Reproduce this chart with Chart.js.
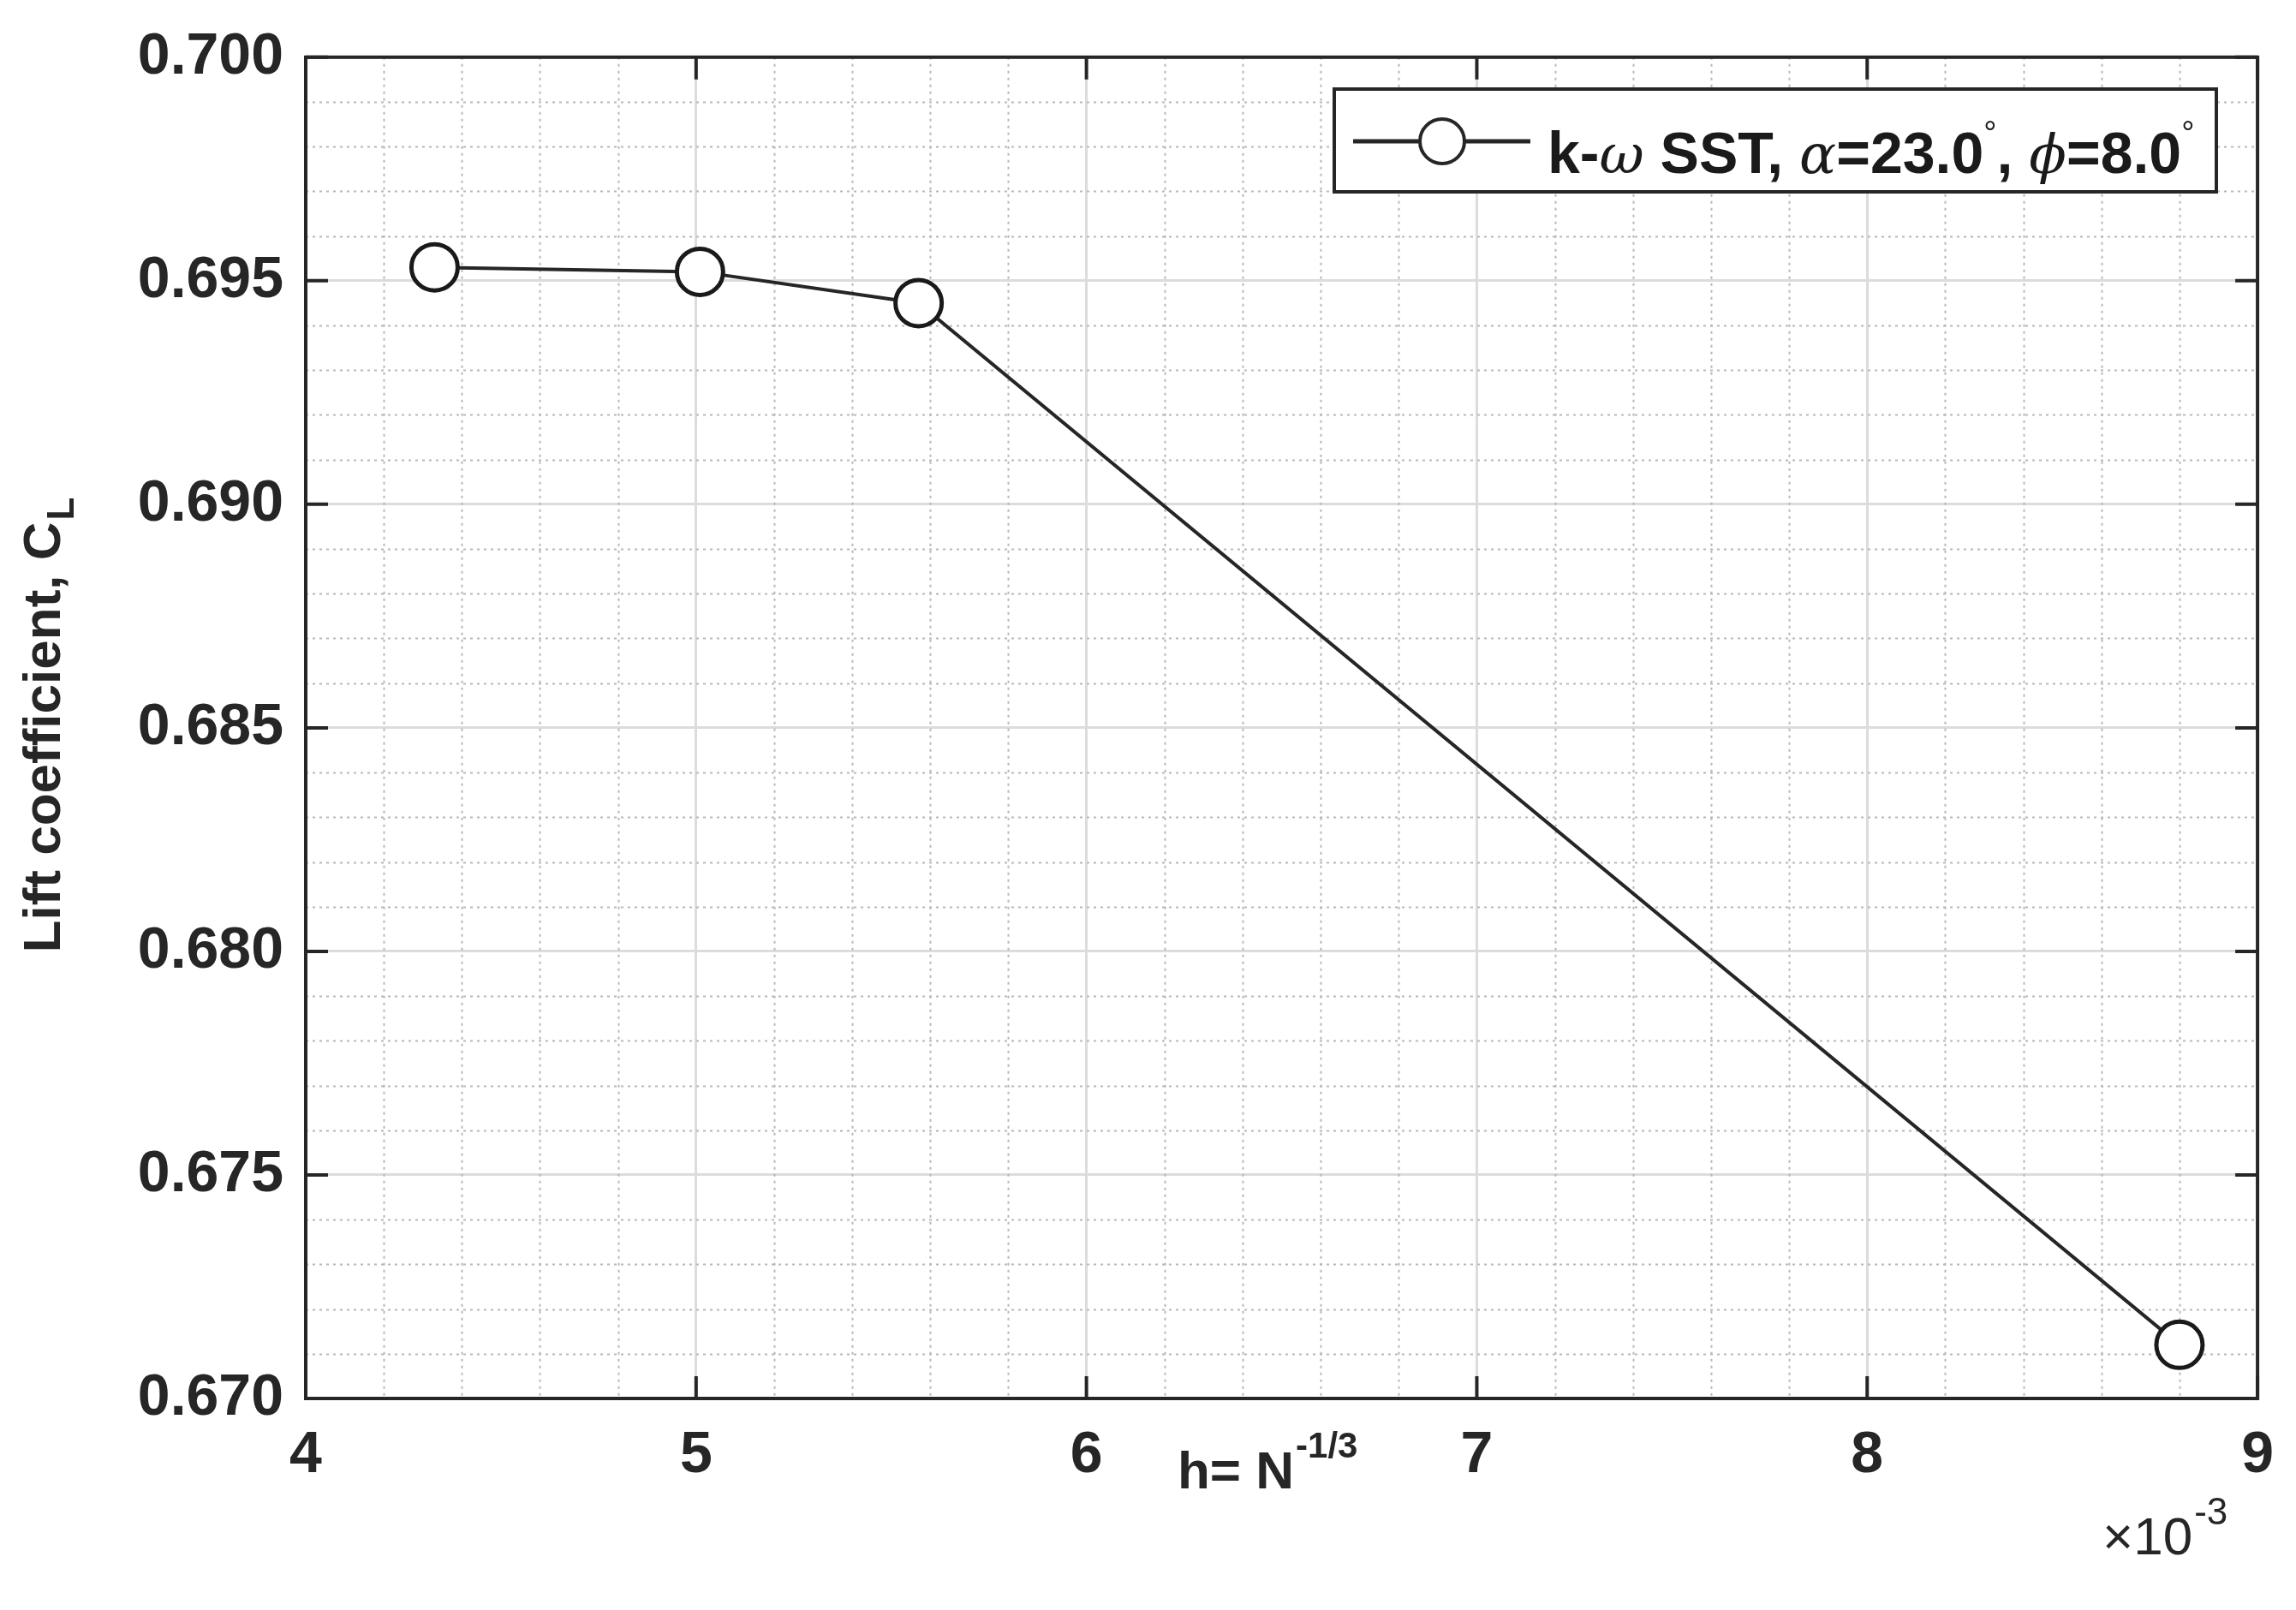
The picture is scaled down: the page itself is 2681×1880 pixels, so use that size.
<!DOCTYPE html>
<html>
<head>
<meta charset="utf-8">
<script src="https://cdn.jsdelivr.net/npm/chart.js@4.4.1/dist/chart.umd.min.js"></script>
<style>
  html, body { margin: 0; padding: 0; background: #fff; }
  #wrap { width: 2681px; height: 1880px; }
</style>
</head>
<body>
<div id="wrap"><canvas id="c"></canvas></div>
<script>
// grid spacing h (x 1e-3) and lift coefficient
const hValues  = [4.33, 5.01, 5.57, 8.80];
const clValues = [0.6953, 0.6952, 0.6945, 0.6712];
const xTicks = [4, 5, 6, 7, 8, 9];
const yTicks = [0.670, 0.675, 0.680, 0.685, 0.690, 0.695, 0.700];
const seriesLabel = "k-ω SST, α=23.0°, ϕ=8.0°";

const FONT = '"Liberation Sans Narrow", "Liberation Sans", Arial, sans-serif';

// minor dotted grid + inward ticks + axis titles + legend
const decor = {
  id: "decor",
  beforeDatasetsDraw(chart) {
    const { ctx, chartArea: a, scales: { x, y } } = chart;
    ctx.save();
    ctx.strokeStyle = "#b8b8b8";
    ctx.lineWidth = 2;
    ctx.setLineDash([3, 5]);
    for (let v = 4; v <= 9.001; v += 0.2) {
      if (Math.abs(v - Math.round(v)) < 1e-6) continue;
      const px = Math.round(x.getPixelForValue(v)) + 0.5;
      ctx.beginPath(); ctx.moveTo(px, a.top); ctx.lineTo(px, a.bottom); ctx.stroke();
    }
    for (let i = 0; i <= 30; i++) {
      if (i % 5 === 0) continue;
      const py = Math.round(y.getPixelForValue(0.670 + i * 0.001)) + 0.5;
      ctx.beginPath(); ctx.moveTo(a.left, py); ctx.lineTo(a.right, py); ctx.stroke();
    }
    ctx.restore();
  },
  afterDraw(chart) {
    const { ctx, chartArea: a, scales: { x, y } } = chart;
    ctx.save();
    // box and inward ticks
    ctx.strokeStyle = "#262626";
    ctx.lineWidth = 4;
    ctx.strokeRect(a.left, a.top, a.right - a.left, a.bottom - a.top);
    const t = 26;
    xTicks.forEach(v => {
      const px = x.getPixelForValue(v);
      ctx.beginPath();
      ctx.moveTo(px, a.bottom); ctx.lineTo(px, a.bottom - t);
      ctx.moveTo(px, a.top); ctx.lineTo(px, a.top + t);
      ctx.stroke();
    });
    yTicks.forEach(v => {
      const py = y.getPixelForValue(v);
      ctx.beginPath();
      ctx.moveTo(a.left, py); ctx.lineTo(a.left + t, py);
      ctx.moveTo(a.right, py); ctx.lineTo(a.right - t, py);
      ctx.stroke();
    });

    ctx.fillStyle = "#262626";
    ctx.textBaseline = "alphabetic";
    ctx.textAlign = "left";
    // x title: h= N^-1/3
    ctx.font = "bold 62px " + FONT;
    const s1 = "h= N", sx = 1375;
    ctx.fillText(s1, sx, 1738);
    const w1 = ctx.measureText(s1).width;
    ctx.font = "bold 42px " + FONT;
    ctx.fillText("-1/3", sx + w1 + 2, 1702);

    // x10^-3
    ctx.font = "62px " + FONT;
    ctx.fillText("×10", 2455, 1815);
    const w2 = ctx.measureText("×10").width;
    ctx.font = "44px " + FONT;
    ctx.fillText("-3", 2455 + w2 + 2, 1780);

    // y title
    ctx.translate(70, 842);
    ctx.rotate(-Math.PI / 2);
    ctx.font = "bold 62px " + FONT;
    const yt = "Lift coefficient, C";
    const yw = ctx.measureText(yt).width;
    const yl = ctx.measureText("L").width;
    const startX = -(yw + yl) / 2;
    ctx.fillText(yt, startX, 0);
    ctx.font = "bold 44px " + FONT;
    ctx.fillText("L", startX + yw + 2, 16);
    ctx.setTransform(1, 0, 0, 1, 0, 0);

    // legend
    const lx = 1558, ly = 104, lw = 1030, lh = 120;
    ctx.fillStyle = "#fff";
    ctx.fillRect(lx, ly, lw, lh);
    ctx.strokeStyle = "#262626";
    ctx.lineWidth = 4;
    ctx.strokeRect(lx, ly, lw, lh);
    const my = 165;
    ctx.lineWidth = 5;
    ctx.beginPath(); ctx.moveTo(1580, my); ctx.lineTo(1787, my); ctx.stroke();
    ctx.lineWidth = 4;
    ctx.beginPath(); ctx.arc(1684, my, 26, 0, Math.PI * 2);
    ctx.fillStyle = "#fff"; ctx.fill(); ctx.stroke();
    ctx.fillStyle = "#1a1a1a";
    const base = 202;
    let px = 1807;
    const bold = "bold 68px " + FONT;
    const greek = "italic 64px 'DejaVu Serif', 'Liberation Serif', serif";
    const deg = "38px " + FONT;
    const parts = [
      [bold, "k-", 0], [greek, "ω", 0], [bold, " SST, ", 0], [greek, "α", 0],
      [bold, "=23.0", 0], [deg, "°", -34], [bold, ", ", 0], [greek, "ϕ", 0],
      [bold, "=8.0", 0], [deg, "°", -34]
    ];
    parts.forEach(([f, s, dy]) => {
      ctx.font = f;
      ctx.fillText(s, px, base + dy);
      px += ctx.measureText(s).width;
    });
    ctx.restore();
  }
};

new Chart(document.getElementById("c"), {
  type: "scatter",
  data: {
    datasets: [{
      label: seriesLabel,
      data: hValues.map((h, i) => ({ x: h, y: clValues[i] })),
      showLine: true,
      borderColor: "#262626",
      borderWidth: 4,
      pointRadius: 27,
      pointBorderWidth: 5,
      pointBackgroundColor: "#fff",
      pointBorderColor: "#1a1a1a"
    }]
  },
  options: {
    responsive: true,
    maintainAspectRatio: false,
    animation: false,
    devicePixelRatio: 1,
    layout: { padding: { top: 51, right: 36, left: 0, bottom: 0 } },
    plugins: { legend: { display: false }, tooltip: { enabled: false } },
    scales: {
      x: {
        type: "linear", min: 4, max: 9,
        afterBuildTicks: s => { s.ticks = xTicks.map(v => ({ value: v })); },
        afterFit: s => { s.height = 247; },
        grid: { color: "#dcdcdc", lineWidth: 3, drawTicks: false },
        border: { display: false },
        ticks: { padding: 26, color: "#262626", font: { family: FONT, size: 68, weight: "bold" } }
      },
      y: {
        type: "linear", min: 0.670, max: 0.700,
        afterBuildTicks: s => { s.ticks = yTicks.map(v => ({ value: v })); },
        afterFit: s => { s.width = 357; },
        grid: { color: "#dcdcdc", lineWidth: 3, drawTicks: false },
        border: { display: false },
        ticks: {
          padding: 26, color: "#262626",
          font: { family: FONT, size: 68, weight: "bold" },
          callback: v => v.toFixed(3)
        }
      }
    }
  },
  plugins: [decor]
});
</script>
</body>
</html>
